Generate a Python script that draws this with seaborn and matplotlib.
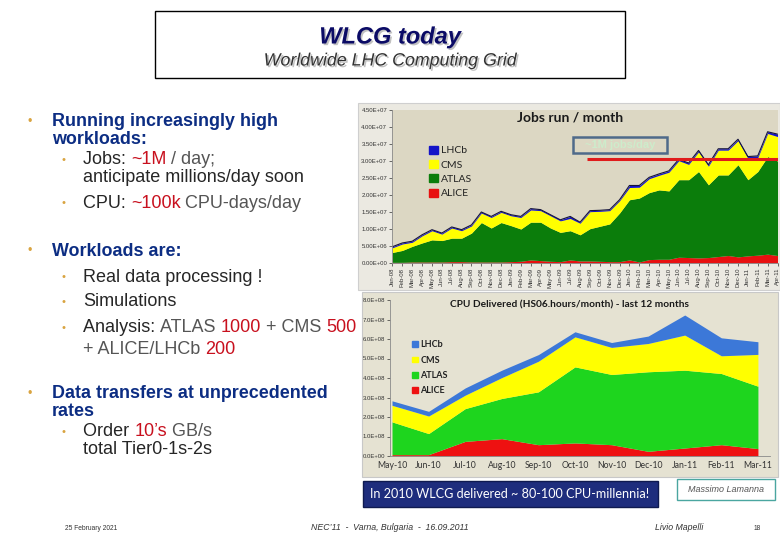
import matplotlib
matplotlib.use("Agg")
import matplotlib.pyplot as plt
import matplotlib.patches as mpatches
import matplotlib.patheffects as pe
from matplotlib.transforms import IdentityTransform
from matplotlib.ticker import FuncFormatter, MultipleLocator
import seaborn as sns

# ---- Jobs run / month (millions of jobs) ----
job_months = ["Jan-08", "Feb-08", "Mar-08", "Apr-08", "May-08", "Jun-08", "Jul-08", "Aug-08",
              "Sep-08", "Oct-08", "Nov-08", "Dec-08", "Jan-09", "Feb-09", "Mar-09", "Apr-09",
              "May-09", "Jun-09", "Jul-09", "Aug-09", "Sep-09", "Oct-09", "Nov-09", "Dec-09",
              "Jan-10", "Feb-10", "Mar-10", "Apr-10", "May-10", "Jun-10", "Jul-10", "Aug-10",
              "Sep-10", "Oct-10", "Nov-10", "Dec-10", "Jan-11", "Feb-11", "Mar-11", "Apr-11"]
jobs_alice = [0.2, 0.2, 0.3, 0.3, 0.3, 0.3, 0.4, 0.4, 0.3, 0.3, 0.3, 0.3,
              0.4, 0.5, 0.9, 0.7, 0.5, 0.4, 0.9, 0.6, 0.6, 0.5, 0.4, 0.4,
              0.9, 0.3, 1.0, 1.1, 1.1, 1.7, 1.6, 1.5, 1.6, 1.9, 2.2, 1.8,
              2.1, 2.3, 2.6, 2.2]
jobs_atlas = [2.9, 3.5, 4.6, 5.6, 6.5, 6.3, 6.9, 6.9, 8.5, 11.6, 10.0, 11.6,
              10.6, 9.5, 11.1, 11.3, 9.8, 8.6, 8.6, 7.7, 9.5, 10.3, 11.1, 14.3,
              17.7, 18.8, 19.7, 20.4, 20.1, 22.8, 22.9, 25.4, 21.4, 24.0, 23.7, 27.1,
              22.4, 24.6, 28.7, 27.8]
jobs_cms = [1.4, 1.9, 1.2, 2.1, 2.7, 1.9, 3.0, 2.2, 2.1, 2.8, 3.1, 3.0,
            2.9, 3.4, 3.6, 3.4, 3.6, 3.4, 3.6, 3.4, 5.0, 4.4, 3.9, 3.6,
            3.6, 3.2, 4.1, 4.3, 5.5, 5.6, 4.5, 5.8, 5.5, 7.3, 7.3, 7.1,
            6.3, 4.1, 6.8, 7.2]
jobs_lhcb = [0.3, 0.3, 0.3, 0.3, 0.3, 0.3, 0.3, 0.3, 0.3, 0.3, 0.3, 0.3,
             0.3, 0.3, 0.4, 0.3, 0.3, 0.3, 0.6, 0.3, 0.3, 0.3, 0.3, 0.3,
             0.6, 0.5, 0.4, 0.4, 0.4, 0.4, 0.4, 0.4, 0.4, 0.4, 0.4, 0.4,
             0.5, 0.5, 0.5, 0.7]
million_jobs_level = 30.5  # ~1M jobs/day, in millions per month

# ---- CPU delivered (1e8 HS06.hours / month) ----
cpu_months = ["May-10", "Jun-10", "Jul-10", "Aug-10", "Sep-10", "Oct-10",
              "Nov-10", "Dec-10", "Jan-11", "Feb-11", "Mar-11"]
cpu_alice = [0.07, 0.07, 0.75, 0.89, 0.58, 0.67, 0.58, 0.24, 0.41, 0.58, 0.38]
cpu_atlas = [1.68, 1.08, 1.68, 2.06, 2.71, 3.90, 3.60, 4.08, 3.99, 3.65, 3.20]
cpu_cms = [0.85, 0.90, 0.69, 1.07, 1.57, 1.54, 1.39, 1.45, 1.80, 0.91, 1.63]
cpu_lhcb = [0.23, 0.24, 0.37, 0.38, 0.34, 0.26, 0.25, 0.38, 1.03, 0.92, 0.65]

experiments = ["ALICE", "ATLAS", "CMS", "LHCb"]

sns.set_theme(style="white")
plt.rcParams["font.family"] = ["Liberation Sans", "DejaVu Sans"]

W, H = 780, 540
fig = plt.figure(figsize=(7.8, 5.4), dpi=100)
fig.patch.set_facecolor("white")
PX = IdentityTransform()


def rect(px, py, w, h):
    # pixel box (top-left origin) -> figure fractions
    return [px / W, 1 - (py + h) / H, w / W, h / H]


def box(x0, y0, x1, y1, z=-5, **kw):
    fig.patches.append(mpatches.Rectangle((x0, H - y1), x1 - x0, y1 - y0,
                                          transform=PX, zorder=z, **kw))


def rich(x, y, parts, size=13, weight="normal"):
    r = fig.canvas.get_renderer()
    for s, c in parts:
        t = fig.text(x, H - y, s, color=c, fontsize=size, weight=weight,
                     va="center", ha="left", transform=PX)
        x += t.get_window_extent(r).width


# ---- header ----
box(155, 11, 625, 78, facecolor="white", edgecolor="black", lw=1)
shadow = [pe.withSimplePatchShadow(offset=(1.2, -1.2), shadow_rgbFace="#999999", alpha=0.6)]
fig.text(390, H - 37, "WLCG today", transform=PX, ha="center", va="center", fontsize=17,
         weight="bold", style="italic", color="#0b0b66", path_effects=shadow)
fig.text(390, H - 61, "Worldwide LHC Computing Grid", transform=PX, ha="center", va="center",
         fontsize=12.8, style="italic", color="#333333", path_effects=shadow)

# ---- left bullets ----
NAVY, DARK, GREY, RED, GOLD = "#0c2d83", "#262626", "#555555", "#c8101e", "#d9a441"
for yb in (122, 251, 394):
    fig.text(30, H - yb, "•", transform=PX, color=GOLD, fontsize=9, va="center", ha="center")
for yb in (160, 203, 277, 302, 328, 432):
    fig.text(64, H - yb, "•", transform=PX, color=GOLD, fontsize=8, va="center", ha="center")

rich(52, 122, [("Running increasingly high", NAVY)], 12.9, "bold")
rich(52, 139, [("workloads:", NAVY)], 12.9, "bold")
rich(83, 160, [("Jobs: ", DARK), ("~1M", RED), (" / day;", GREY)])
rich(83, 178, [("anticipate millions/day soon", DARK)])
rich(83, 203, [("CPU: ", DARK), ("~100k", RED), (" CPU-days/day", GREY)])
rich(52, 251, [("Workloads are:", NAVY)], 12.9, "bold")
rich(83, 277, [("Real data processing !", DARK)])
rich(83, 302, [("Simulations", DARK)])
rich(83, 328, [("Analysis: ", DARK), ("ATLAS ", GREY), ("1000", RED), (" + CMS ", GREY), ("500", RED)])
rich(83, 349, [("+ ALICE/LHCb ", GREY), ("200", RED)])
rich(52, 394, [("Data transfers at unprecedented", NAVY)], 12.9, "bold")
rich(52, 411, [("rates", NAVY)], 12.9, "bold")
rich(83, 432, [("Order ", DARK), ("10’s", RED), (" GB/s", GREY)])
rich(83, 450, [("total Tier0-1s-2s", DARK)])

# ---- top chart: jobs run / month ----
box(358, 103, 780, 290, facecolor="#ebe9e1", edgecolor="#cfcfcf", lw=0.8)
ax1 = fig.add_axes(rect(392, 110, 386, 153))
ax1.set_facecolor("#dcd7c3")
x1 = list(range(len(job_months)))
top_colors = ["#e81010", "#0b7d0b", "#ffff00", "#1414c8"]
scale = 1e6
ax1.stackplot(x1, [v * scale for v in jobs_alice], [v * scale for v in jobs_atlas],
              [v * scale for v in jobs_cms], [v * scale for v in jobs_lhcb],
              colors=top_colors, linewidth=0)
jobs_total = [(a + b + c + d) * scale for a, b, c, d in zip(jobs_alice, jobs_atlas, jobs_cms, jobs_lhcb)]
sns.lineplot(x=x1, y=jobs_total, ax=ax1, color="#14143c", lw=0.8)
ax1.hlines(million_jobs_level * scale, 19.7, 39.05, color="#e01b1b", lw=2.2, zorder=5)
ax1.add_patch(mpatches.Rectangle((18.3, 32.3e6), 9.5, 4.7e6, fill=False,
                                 edgecolor="#4f6a8a", lw=1.8, zorder=5))
ax1.text(23.05, 34.65e6, "~1M jobs/day", color="#cdeccb", fontsize=8, weight="bold",
         ha="center", va="center", zorder=6)
ax1.set_xlim(-0.05, 39.05)
ax1.set_ylim(0, 45e6)
ax1.yaxis.set_major_locator(MultipleLocator(5e6))
ax1.yaxis.set_major_formatter(FuncFormatter(lambda v, p: f"{v:.2E}"))
ax1.set_xticks(x1)
ax1.set_xticklabels(job_months, rotation=90)
ax1.tick_params(axis="both", labelsize=4.3, colors="#333333", length=2, width=0.5, pad=1.5,
                left=True, bottom=True)
for s in ("top", "right"):
    ax1.spines[s].set_visible(False)
for s in ("left", "bottom"):
    ax1.spines[s].set_color("#8a8a8a")
    ax1.spines[s].set_linewidth(0.6)
h1 = [mpatches.Patch(color=c) for c in top_colors][::-1]
leg1 = ax1.legend(h1, experiments[::-1], loc="upper left", bbox_to_anchor=(0.083, 0.80),
                  frameon=False, borderpad=0, labelspacing=0.45,
                  handlelength=0.8, handleheight=0.8, handletextpad=0.3,
                  prop={"family": "Lato", "size": 7.5})
for t in leg1.get_texts():
    t.set_color("#222222")
fig.text(570, H - 118, "Jobs run / month", transform=PX, ha="center", va="center",
         fontsize=10, weight="bold", family="Lato", color="#1a1a1a")

# ---- bottom chart: CPU delivered ----
box(362, 292, 778, 477, facecolor="#e5e2d2", edgecolor="#c8c8c8", lw=0.8)
ax2 = fig.add_axes(rect(390, 300, 380, 156))
ax2.set_facecolor("#e5e2d2")
x2 = list(range(len(cpu_months)))
bot_colors = ["#ee1111", "#1ed51e", "#ffff00", "#3c78d8"]
cs = 1e8
ax2.stackplot(x2, [v * cs for v in cpu_alice], [v * cs for v in cpu_atlas],
              [v * cs for v in cpu_cms], [v * cs for v in cpu_lhcb],
              colors=bot_colors, linewidth=0)
ax2.set_xlim(-0.055, 10.33)
ax2.set_ylim(0, 8e8)
ax2.yaxis.set_major_locator(MultipleLocator(1e8))
ax2.yaxis.set_major_formatter(FuncFormatter(lambda v, p: f"{v:.1E}"))
ax2.set_xticks(x2)
ax2.set_xticklabels(cpu_months, fontsize=6.2, family="Lato")
ax2.tick_params(axis="y", labelsize=4.3, colors="#333333", length=2, width=0.5, pad=1.5, left=True)
ax2.tick_params(axis="x", colors="#333333", length=0, pad=3.5)
for s in ("top", "right"):
    ax2.spines[s].set_visible(False)
for s in ("left", "bottom"):
    ax2.spines[s].set_color("#8a8a8a")
    ax2.spines[s].set_linewidth(0.6)
h2 = [mpatches.Patch(color=c) for c in bot_colors][::-1]
leg2 = ax2.legend(h2, experiments[::-1], loc="upper left", bbox_to_anchor=(0.047, 0.77),
                  frameon=False, borderpad=0, labelspacing=0.7,
                  handlelength=0.6, handleheight=0.6, handletextpad=0.3,
                  prop={"family": "Lato", "size": 6.5, "weight": "bold"})
for t in leg2.get_texts():
    t.set_color("#222222")
fig.text(570, H - 305, "CPU Delivered (HS06.hours/month) - last 12 months", transform=PX,
         ha="center", va="center", fontsize=7.3, weight="bold", family="Lato", color="#1a1a1a")

# ---- footer ----
box(363, 481, 658, 507, facecolor="#1e2d7d", edgecolor="#0f1a50", lw=1)
fig.text(510, H - 494, "In 2010 WLCG delivered ~ 80-100 CPU-millennia!", transform=PX,
         ha="center", va="center", fontsize=9.1, family="Lato", color="white")
box(677, 479, 775, 500, facecolor="white", edgecolor="#4aa6a0", lw=1)
fig.text(726, H - 489, "Massimo Lamanna", transform=PX, ha="center", va="center",
         fontsize=6.5, style="italic", color="#555555")
fig.text(65, H - 528, "25 February 2021", transform=PX, ha="left", va="center",
         fontsize=4.8, color="#333333")
fig.text(390, H - 528, "NEC’11  -  Varna, Bulgaria  -  16.09.2011", transform=PX,
         ha="center", va="center", fontsize=6.3, style="italic", color="#333333")
fig.text(655, H - 528, "Livio Mapelli", transform=PX, ha="left", va="center",
         fontsize=6.3, style="italic", color="#333333")
fig.text(757, H - 528, "18", transform=PX, ha="center", va="center",
         fontsize=4.8, color="#333333")

fig.savefig("out.png", dpi=100)
